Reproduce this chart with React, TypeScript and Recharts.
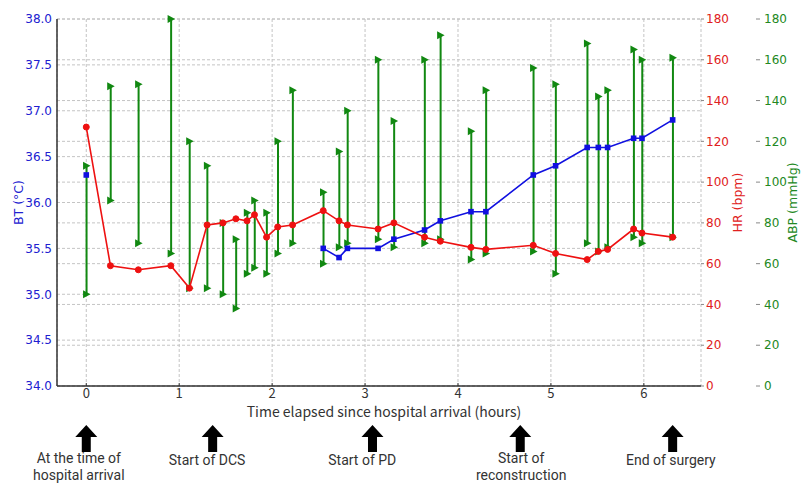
import React from "react";
import {
  Bar,
  CartesianGrid,
  ComposedChart,
  Label,
  Line,
  ReferenceDot,
  XAxis,
  YAxis,
} from "recharts";

// hours since arrival
const times = [
  0, 0.26, 0.56, 0.91, 1.11, 1.3, 1.47, 1.61, 1.73, 1.81, 1.94, 2.06, 2.22,
  2.55, 2.72, 2.81, 3.14, 3.31, 3.64, 3.81, 4.14, 4.3, 4.81, 5.05, 5.39, 5.51,
  5.61, 5.89, 5.98, 6.31,
];
const btValues = [
  36.3, null, null, null, null, null, null, null, null, null, null, null, null,
  35.5, 35.4, 35.5, 35.5, 35.6, 35.7, 35.8, 35.9, 35.9, 36.3, 36.4, 36.6, 36.6,
  36.6, 36.7, 36.7, 36.9,
];
const hrValues = [
  127, 59, 57, 59, 48, 79, 80, 82, 81, 84, 73, 78, 79, 86, 81, 79, 77, 80, 73,
  71, 68, 67, 69, 65, 62, 66, 67, 77, 75, 73,
];
const abpSystolic = [
  108, 147, 148, 180, 120, 108, 80, 72, 85, 91, 85, 120, 145, 95, 115, 135, 160,
  130, 160, 172, 125, 145, 156, 148, 168, 142, 145, 165, 160, 161,
];
const abpDiastolic = [
  45, 91, 70, 65, 48, 48, 45, 38, 55, 58, 55, 65, 70, 60, 68, 70, 72, 68, 70,
  72, 62, 65, 66, 55, 70, 66, 68, 73, 70, 73,
];

const hourTicks = [0, 1, 2, 3, 4, 5, 6];
const btTicks = [34, 34.5, 35, 35.5, 36, 36.5, 37, 37.5, 38];
const rightTicks = [0, 20, 40, 60, 80, 100, 120, 140, 160, 180];

// annotations under the axis
const arrowTimes = [0, 1.36, 3.08, 4.67, 6.31];
const noteTimes = [-0.08, 1.3, 2.97, 4.68, 6.29];
const noteLines = [
  ["At the time of", "hospital arrival"],
  ["Start of DCS"],
  ["Start of PD"],
  ["Start of", "reconstruction"],
  ["End of surgery"],
];

const data = times.map((t, i) => ({
  t,
  bt: btValues[i],
  hr: hrValues[i],
  abp: [abpDiastolic[i], abpSystolic[i]],
}));

const tickFont = "'DejaVu Sans', sans-serif";
const noteFont = "'Noto Sans CJK JP', 'Noto Sans', sans-serif";

const tri = (x: number, y: number) =>
  `M${x - 3.5},${y - 4}L${x + 4},${y}L${x - 3.5},${y + 4}Z`;

const AbpShape = (props: any) => {
  const { x, y, width, height } = props;
  const cx = x + width / 2;
  const top = Math.min(y, y + height);
  const bottom = Math.max(y, y + height);
  return (
    <g>
      <line x1={cx} x2={cx} y1={top} y2={bottom} stroke="#118811" strokeWidth={2} />
      <path d={tri(cx, top)} fill="#118811" />
      <path d={tri(cx, bottom)} fill="#118811" />
    </g>
  );
};

const SquareDot = (p: any) => {
  if (p.payload?.bt == null) return <g key={p.index} />;
  return (
    <rect key={p.index} x={p.cx - 2.8} y={p.cy - 2.8} width={5.6} height={5.6} fill="#1010e0" />
  );
};

const Arrow = (p: any) => {
  const { cx, cy } = p;
  const d = `M${cx},${cy + 39}L${cx + 11},${cy + 51}L${cx + 4.5},${cy + 51}L${cx + 4.5},${cy + 66}L${cx - 4.5},${cy + 66}L${cx - 4.5},${cy + 51}L${cx - 11},${cy + 51}Z`;
  return <path d={d} fill="#000" />;
};

const noteShape = (lines: string[]) => (p: any) => (
  <g>
    {lines.map((s, k) => (
      <text
        key={k}
        x={p.cx}
        y={p.cy + (lines.length > 1 ? 72 : 74) + k * 16.5}
        textAnchor="middle"
        dominantBaseline="central"
        fontFamily="Roboto, sans-serif"
        fontSize={14}
        fill="#333"
      >
        {s}
      </text>
    ))}
  </g>
);

const vLabel = (text: string, dx: number, color: string) => (props: any) => {
  const vb = props.viewBox;
  const x = vb.x + dx;
  const y = vb.y + vb.height / 2;
  return (
    <text
      x={x}
      y={y}
      transform={`rotate(-90, ${x}, ${y})`}
      textAnchor="middle"
      dominantBaseline="central"
      fontFamily={tickFont}
      fontSize={12.5}
      fill={color}
    >
      {text}
    </text>
  );
};

export default function App() {
  return (
    <div style={{ width: 802, height: 484 }}>
      <style>{"body{margin:0}"}</style>
      <ComposedChart
        width={802}
        height={484}
        data={data}
        margin={{ top: 19, right: 0, bottom: 68, left: 0 }}
      >
        <CartesianGrid
          yAxisId="bt"
          stroke="#c4c4c4"
          strokeDasharray="3 2"
          vertical
          horizontal
        />
        <CartesianGrid
          yAxisId="hr"
          stroke="#c4c4c4"
          strokeDasharray="3 2"
          vertical={false}
          horizontal
        />
        <XAxis
          dataKey="t"
          type="number"
          domain={[-0.315, 6.615]}
          ticks={hourTicks}
          allowDataOverflow
          height={30}
          axisLine={{ stroke: "#333", strokeWidth: 1.5 }}
          tickLine={{ stroke: "#333" }}
          tickSize={-3}
          tickMargin={6}
          tick={{ fill: "#333", fontSize: 13, fontFamily: noteFont }}
        >
          <Label content={(props: any) => {
            const vb = props.viewBox;
            return (
              <text
                x={vb.x + vb.width / 2 + 5}
                y={vb.y + 25}
                textAnchor="middle"
                dominantBaseline="central"
                fontFamily={noteFont}
                fontSize={14}
                fill="#333"
              >
                Time elapsed since hospital arrival (hours)
              </text>
            );
          }} />
        </XAxis>
        <YAxis
          yAxisId="bt"
          domain={[34, 38]}
          ticks={btTicks}
          width={57}
          axisLine={{ stroke: "#333", strokeWidth: 1.5 }}
          tickLine={false}
          tickSize={0}
          tickMargin={5}
          tickFormatter={(v: number) => v.toFixed(1)}
          tick={{ fill: "#2020d0", fontSize: 12, fontFamily: tickFont }}
        >
          <Label content={vLabel("BT (°C)", 18, "#2020d0")} />
        </YAxis>
        <YAxis
          yAxisId="hr"
          orientation="right"
          domain={[0, 180]}
          ticks={rightTicks}
          width={55}
          axisLine={false}
          tickLine={{ stroke: "#888" }}
          tickSize={3}
          tickMargin={2}
          tick={{ fill: "#e02020", fontSize: 12, fontFamily: tickFont }}
        >
          <Label content={vLabel("HR (bpm)", 36, "#e02020")} />
        </YAxis>
        <YAxis
          yAxisId="pressure"
          orientation="right"
          domain={[0, 180]}
          ticks={rightTicks}
          width={46}
          axisLine={false}
          tickLine={{ stroke: "#888" }}
          tickSize={4}
          tickMargin={4}
          tick={{ fill: "#228822", fontSize: 12, fontFamily: tickFont }}
        >
          <Label content={vLabel("ABP (mmHg)", 36, "#228822")} />
        </YAxis>
        <Line
          yAxisId="bt"
          dataKey="bt"
          stroke="#1010e0"
          strokeWidth={1.6}
          dot={SquareDot}
          activeDot={false}
          isAnimationActive={false}
        />
        <Line
          yAxisId="hr"
          dataKey="hr"
          stroke="#ee1111"
          strokeWidth={1.6}
          dot={{ r: 3, fill: "#ee1111", stroke: "#ee1111", strokeWidth: 1 }}
          activeDot={false}
          isAnimationActive={false}
        />
        <Bar
          yAxisId="pressure"
          dataKey="abp"
          barSize={2}
          shape={AbpShape}
          isAnimationActive={false}
        />
        {arrowTimes.map((t, i) => (
          <ReferenceDot
            key={"a" + i}
            yAxisId="hr"
            x={t}
            y={0}
            ifOverflow="visible"
            shape={Arrow}
          />
        ))}
        {noteTimes.map((t, i) => (
          <ReferenceDot
            key={"n" + i}
            yAxisId="hr"
            x={t}
            y={0}
            ifOverflow="visible"
            shape={noteShape(noteLines[i])}
          />
        ))}
      </ComposedChart>
    </div>
  );
}
